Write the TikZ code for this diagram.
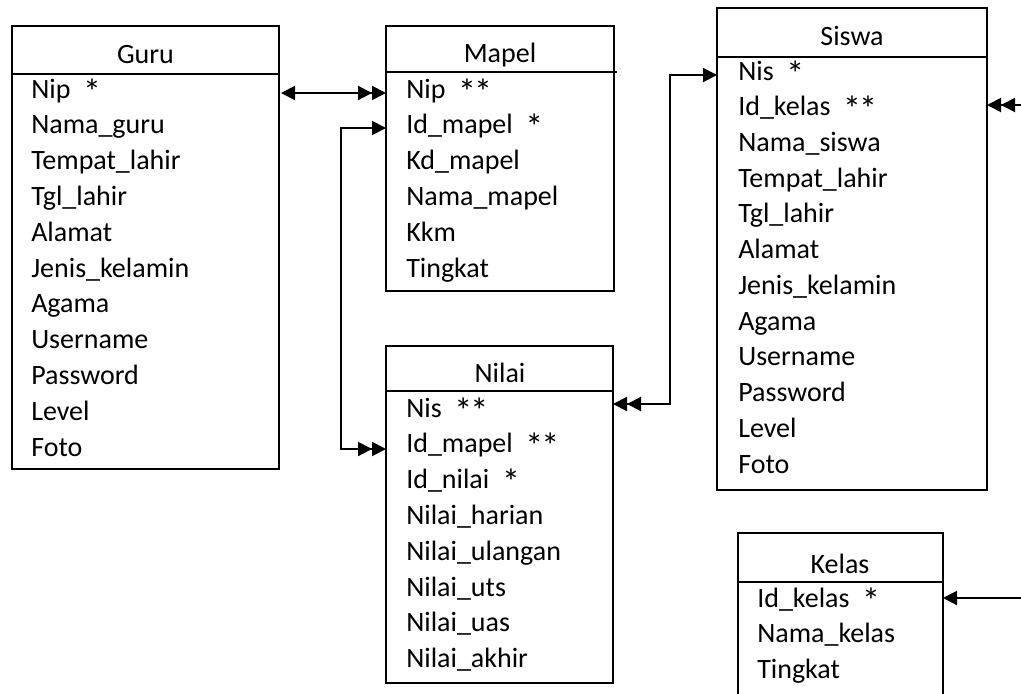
\documentclass[tikz,border=0pt]{standalone}
\usepackage{fontspec}
\setmainfont{Carlito}
\usetikzlibrary{arrows.meta}
\newcommand{\myst}{\raisebox{-4.5pt}{\fontsize{27}{27}\selectfont *}}
\newcommand{\mystt}{\raisebox{-4.5pt}{\fontsize{27}{27}\selectfont *\kern-1.5pt*}}
\begin{document}
\begin{tikzpicture}[x=0.75pt,y=-0.75pt,
  ent/.style={draw, line width=1.5pt, anchor=north west, inner sep=0pt, outer sep=0pt},
  hdr/.style={line width=1.5pt},
  ttl/.style={font=\fontsize{21}{25}\selectfont, anchor=base, inner sep=0pt},
  row/.style={font=\fontsize{21}{25}\selectfont, anchor=base west, inner sep=0pt},
  conn/.style={line width=1.5pt},
  tip/.tip={Triangle[length=10.5pt,width=10.5pt]}
]
\useasboundingbox (0,0) rectangle (1021,693);

% ---------- Guru ----------
\node[ent, minimum width={267*0.75pt}, minimum height={443*0.75pt}] (guru) at (12,26) {};
\draw[hdr] (12,74) -- (279,74);
\node[ttl] (guruT) at (145.5,63) {Guru};
\foreach \t [count=\i] in {Nip~~\myst,Nama\_guru,Tempat\_lahir,Tgl\_lahir,Alamat,Jenis\_kelamin,Agama,Username,Password,Level,Foto}
  \node[row] (g\i) at (31,{98+35.8*(\i-1)}) {\t};

% ---------- Mapel ----------
\node[ent, minimum width={228*0.75pt}, minimum height={265*0.75pt}] (mapel) at (386,26) {};
\draw[hdr] (386,72) -- (617,72);
\node[ttl] (mapelT) at (500,62) {Mapel};
\foreach \t [count=\i] in {Nip~~\mystt,Id\_mapel~~\myst,Kd\_mapel,Nama\_mapel,Kkm,Tingkat}
  \node[row] (m\i) at (406,{98+35.8*(\i-1)}) {\t};

% ---------- Nilai ----------
\node[ent, minimum width={227*0.75pt}, minimum height={337*0.75pt}] (nilai) at (386,346) {};
\draw[hdr] (386,391) -- (613,391);
\node[ttl] (nilaiT) at (500,382) {Nilai};
\foreach \t [count=\i] in {Nis~~\mystt,Id\_mapel~~\mystt,Id\_nilai~~\myst,Nilai\_harian,Nilai\_ulangan,Nilai\_uts,Nilai\_uas,Nilai\_akhir}
  \node[row] (n\i) at (406,{417+35.8*(\i-1)}) {\t};

% ---------- Siswa ----------
\node[ent, minimum width={270*0.75pt}, minimum height={482*0.75pt}] (siswa) at (717,8) {};
\draw[hdr] (717,57) -- (987,57);
\node[ttl] (siswaT) at (852,45) {Siswa};
\foreach \t [count=\i] in {Nis~~\myst,Id\_kelas~~\mystt,Nama\_siswa,Tempat\_lahir,Tgl\_lahir,Alamat,Jenis\_kelamin,Agama,Username,Password,Level,Foto}
  \node[row] (s\i) at (738,{80+35.73*(\i-1)}) {\t};

% ---------- Kelas ----------
\node[ent, minimum width={205*0.75pt}, minimum height={180*0.75pt}] (kelas) at (738,533) {};
\draw[hdr] (738,582) -- (943,582);
\node[ttl] (kelasT) at (840,573) {Kelas};
\foreach \t [count=\i] in {Id\_kelas~~\myst,Nama\_kelas,Tingkat}
  \node[row] (k\i) at (757,{607+35.8*(\i-1)}) {\t};

% ---------- connectors ----------
\coordinate (cA) at (341,0);
\coordinate (cB) at (670,0);
\coordinate (eR1) at (1021,105);
\coordinate (eR2) at (1021,598);

\draw[conn, {tip}-{tip[]tip}] ([xshift=1.5pt]guru.east |- 0,93) -- (mapel.west |- 0,93);
\draw[conn, {tip[]tip}-{tip}] (nilai.west |- 0,449) -- (cA |- 0,449) -- (cA |- 0,128) -- (mapel.west |- 0,128);
\draw[conn, {tip[]tip}-{tip}] (nilai.east |- 0,404) -- (cB |- 0,404) -- (cB |- 0,75) -- (siswa.west |- 0,75);
\draw[conn, -{tip[]tip}] (eR1) -- (siswa.east |- eR1);
\draw[conn, -{tip}] (eR2) -- (kelas.east |- eR2);
\end{tikzpicture}
\end{document}
